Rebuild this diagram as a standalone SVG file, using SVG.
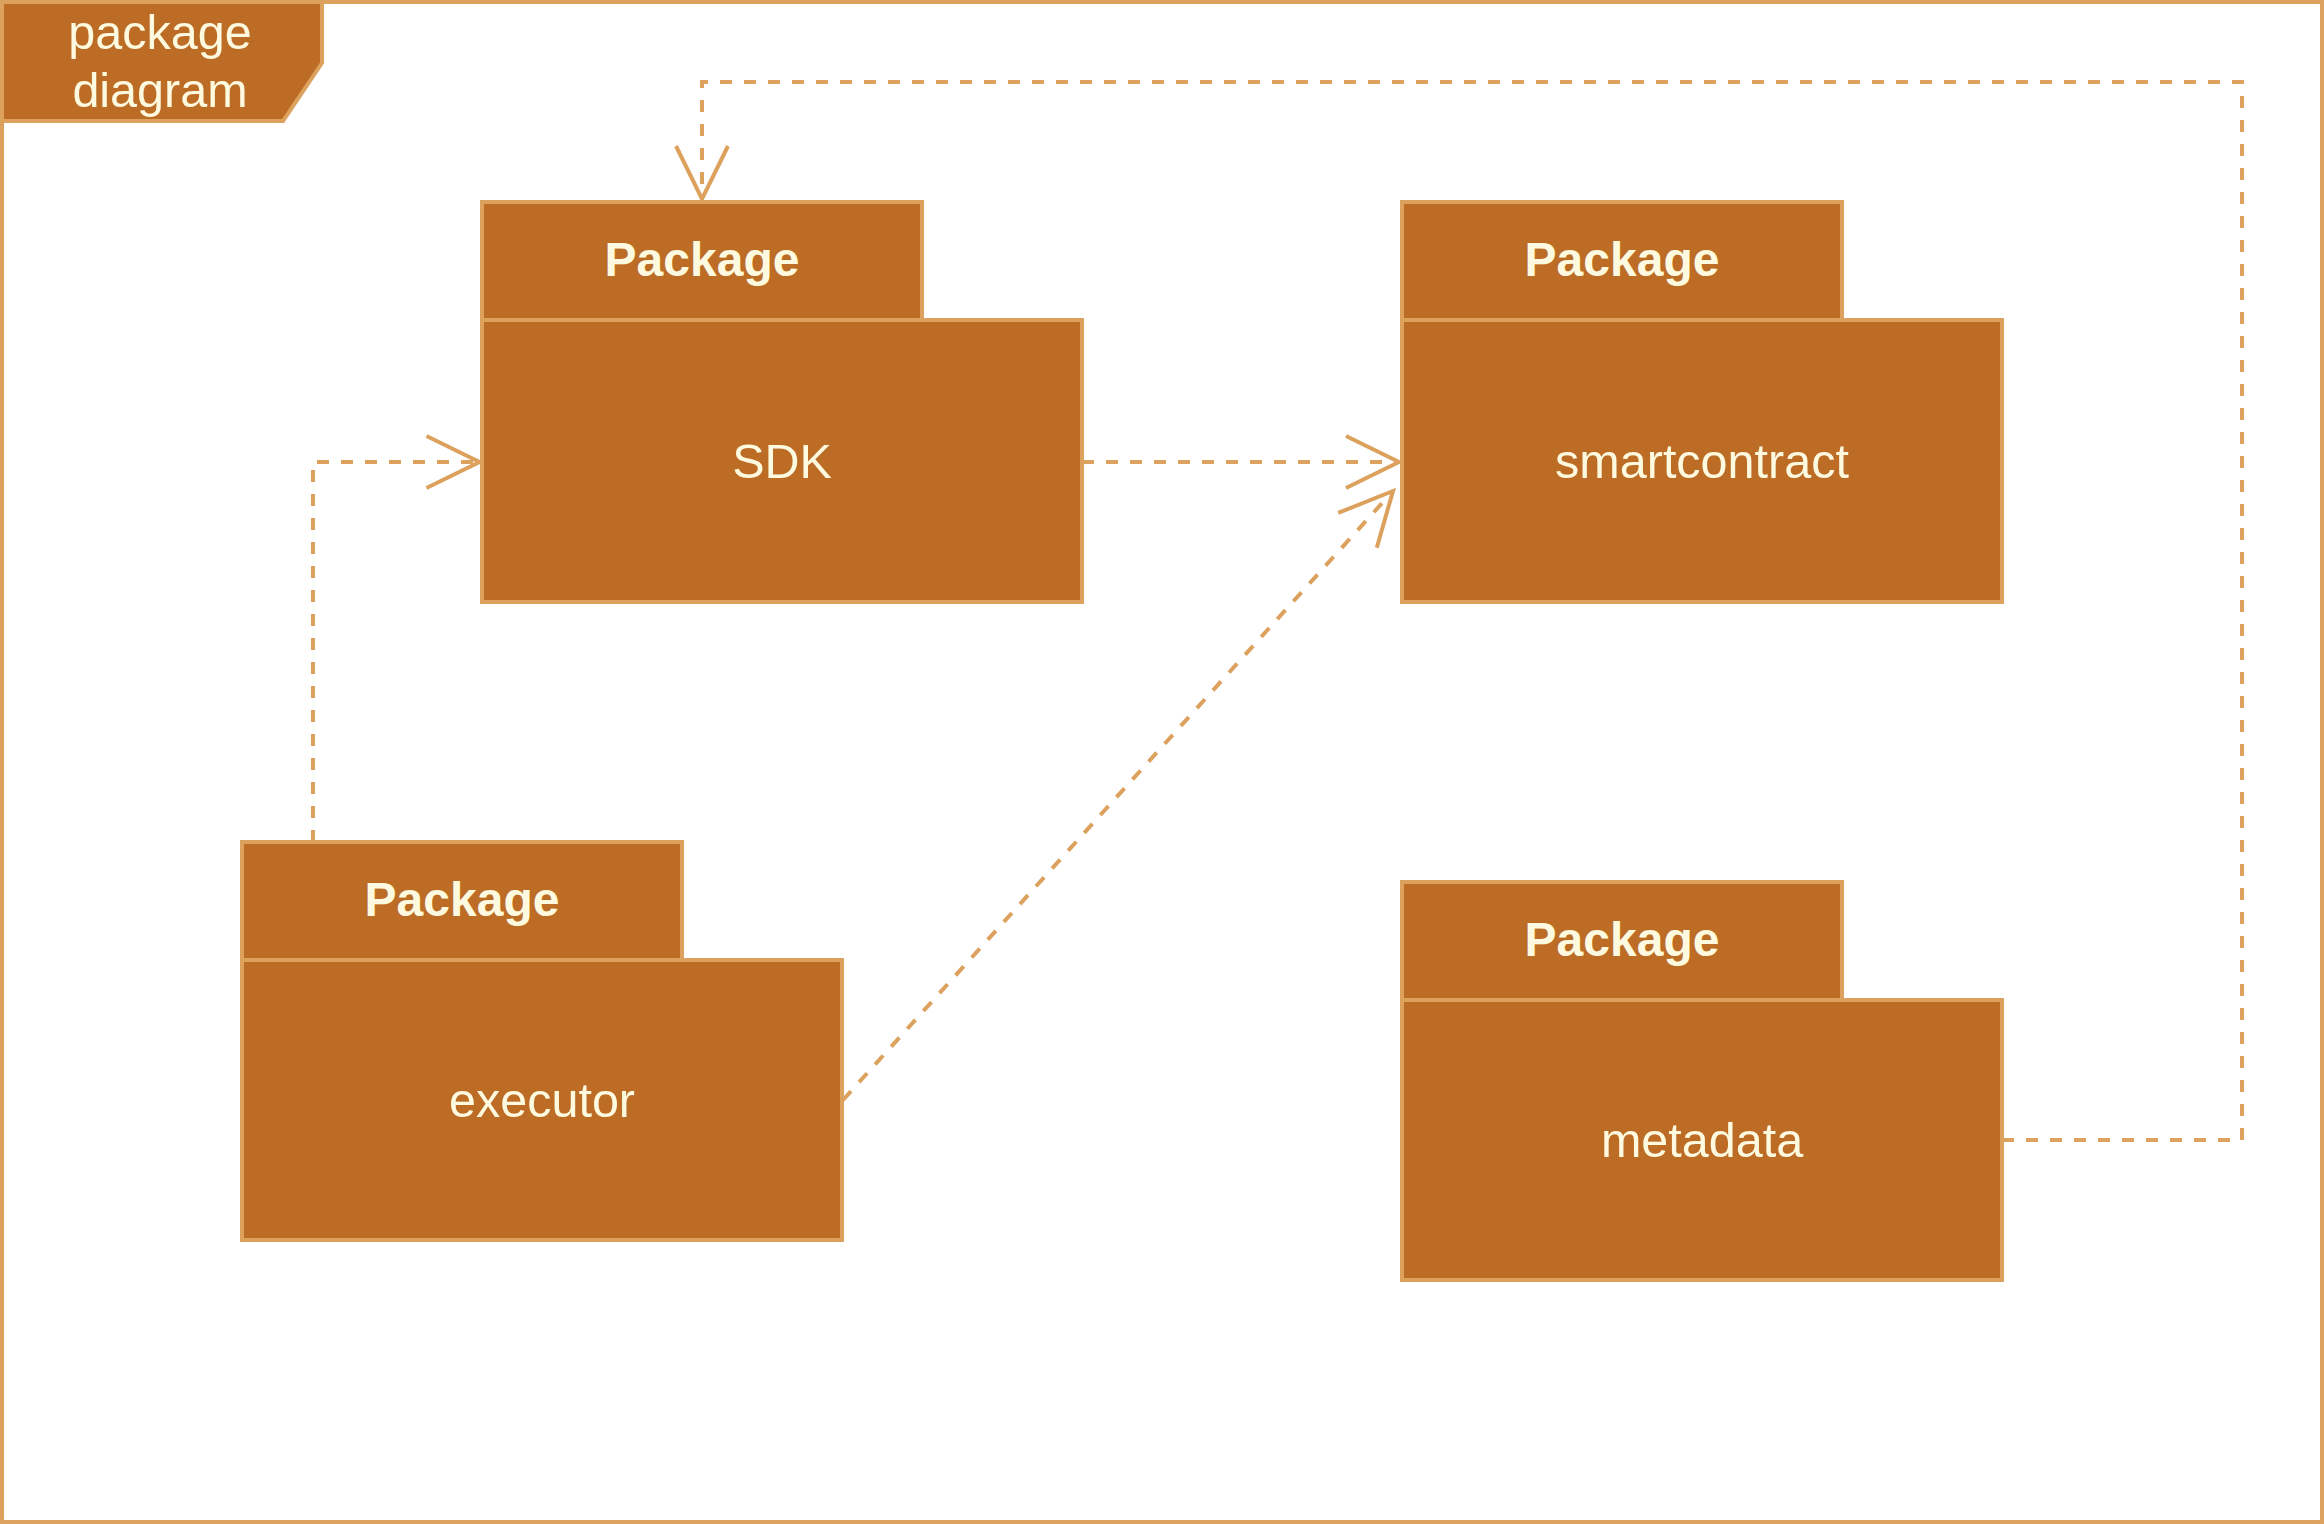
<svg xmlns="http://www.w3.org/2000/svg" width="2324" height="1524" viewBox="0 0 2324 1524">
  <style>
    .frame { fill: #FFFFFF; stroke: #DDA15E; stroke-width: 4; }
    .pkg { fill: #BC6C25; stroke: #DDA15E; stroke-width: 4; }
    .title { font-family: "Liberation Sans", Arial, sans-serif; font-size: 48px; font-weight: bold; fill: #FEFAE0; text-anchor: middle; }
    .name { font-family: "Liberation Sans", Arial, sans-serif; font-size: 48.5px; fill: #FEFAE0; text-anchor: middle; }
    .conn { fill: none; stroke: #DDA15E; stroke-width: 4; stroke-dasharray: 12 12; }
  </style>
  <defs>
    <marker id="open" markerUnits="userSpaceOnUse" viewBox="-58 -30 62 60" markerWidth="62" markerHeight="60" refX="0" refY="0" orient="auto" overflow="visible">
      <path d="M-53,-26 L0,0 L-53,26" fill="none" stroke="#DDA15E" stroke-width="4"/>
    </marker>
  </defs>

  <g id="frame">
    <rect class="frame" x="2" y="2" width="2320" height="1520"/>
    <polygon class="pkg" points="2,2 322,2 322,63 283,121 2,121"/>
    <text class="name" x="160" y="49">package</text>
    <text class="name" x="160" y="107">diagram</text>
  </g>

  <g id="connectors">
    <path class="conn" d="M2002,1140 H2242 V82 H702 V199" marker-end="url(#open)"/>
    <path class="conn" d="M1082,462 H1399" marker-end="url(#open)"/>
    <path class="conn" d="M313,842 V462 H479.5" marker-end="url(#open)"/>
    <path class="conn" d="M843,1100 L1393,491" marker-end="url(#open)"/>
  </g>

  <g id="node-sdk">
    <rect class="pkg" x="482" y="202" width="440" height="118"/>
    <rect class="pkg" x="482" y="320" width="600" height="282"/>
    <text class="title" x="702" y="276">Package</text>
    <text class="name" x="782" y="478">SDK</text>
  </g>

  <g id="node-smartcontract">
    <rect class="pkg" x="1402" y="202" width="440" height="118"/>
    <rect class="pkg" x="1402" y="320" width="600" height="282"/>
    <text class="title" x="1622" y="276">Package</text>
    <text class="name" x="1702" y="478">smartcontract</text>
  </g>

  <g id="node-executor">
    <rect class="pkg" x="242" y="842" width="440" height="118"/>
    <rect class="pkg" x="242" y="960" width="600" height="280"/>
    <text class="title" x="462" y="916">Package</text>
    <text class="name" x="542" y="1117">executor</text>
  </g>

  <g id="node-metadata">
    <rect class="pkg" x="1402" y="882" width="440" height="118"/>
    <rect class="pkg" x="1402" y="1000" width="600" height="280"/>
    <text class="title" x="1622" y="956">Package</text>
    <text class="name" x="1702" y="1157">metadata</text>
  </g>
</svg>
